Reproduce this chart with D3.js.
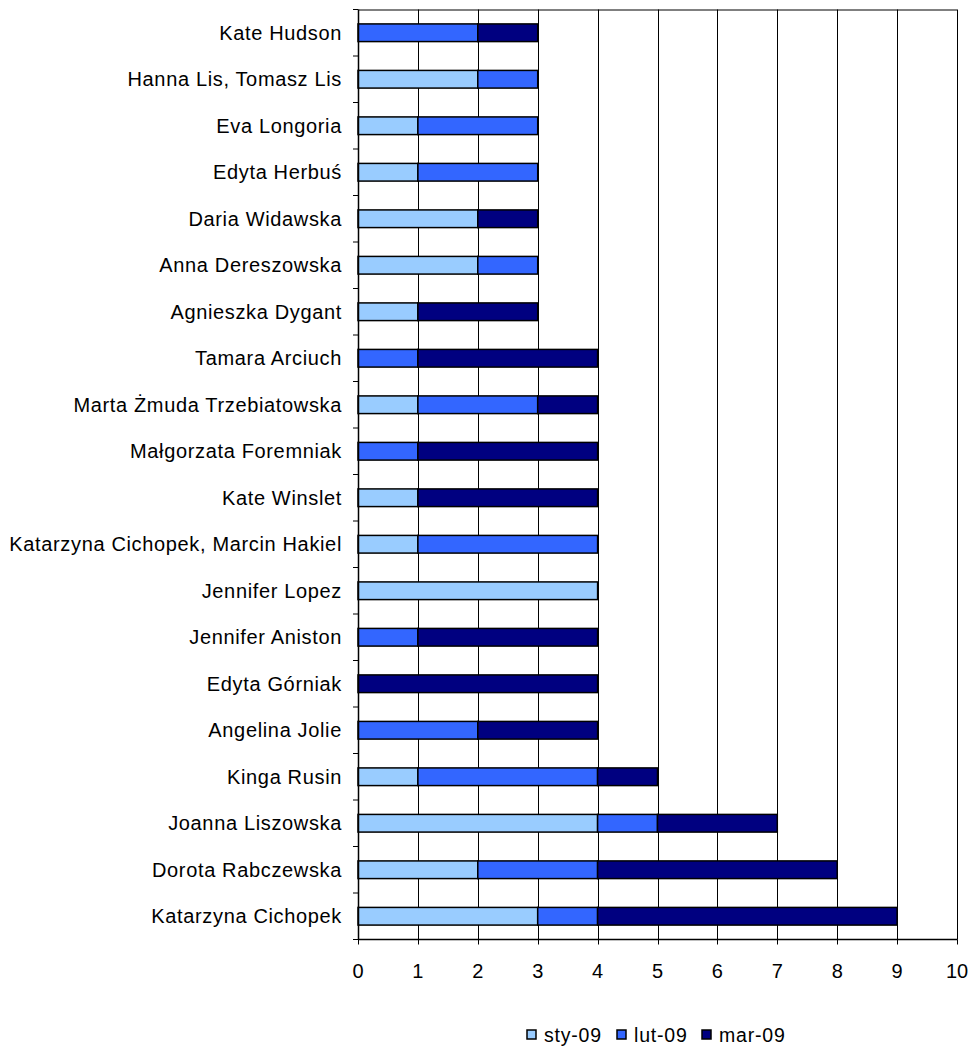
<!DOCTYPE html>
<html>
<head>
<meta charset="utf-8">
<script src="https://cdn.jsdelivr.net/npm/d3@7"></script>
<style>
  body { margin: 0; background: #fff; }
  text { font-family: "Liberation Sans", Arial, sans-serif; fill: #000; }
</style>
</head>
<body>
<div id="chart"></div>
<script>
// names, top to bottom
var names = ["Kate Hudson", "Hanna Lis, Tomasz Lis", "Eva Longoria", "Edyta Herbuś",
  "Daria Widawska", "Anna Dereszowska", "Agnieszka Dygant", "Tamara Arciuch",
  "Marta Żmuda Trzebiatowska", "Małgorzata Foremniak", "Kate Winslet",
  "Katarzyna Cichopek, Marcin Hakiel", "Jennifer Lopez", "Jennifer Aniston",
  "Edyta Górniak", "Angelina Jolie", "Kinga Rusin", "Joanna Liszowska",
  "Dorota Rabczewska", "Katarzyna Cichopek"];
var sty = [0, 2, 1, 1, 2, 2, 1, 0, 1, 0, 1, 1, 4, 0, 0, 0, 1, 4, 2, 3];
var lut = [2, 1, 2, 2, 0, 1, 0, 1, 2, 1, 0, 3, 0, 1, 0, 2, 3, 1, 2, 1];
var mar = [1, 0, 0, 0, 1, 0, 2, 3, 1, 3, 3, 0, 0, 3, 4, 2, 1, 2, 4, 5];
var seriesNames = ["sty-09", "lut-09", "mar-09"];
var colors = ["#99ccff", "#3366ff", "#000080"];
var xTicks = [0, 1, 2, 3, 4, 5, 6, 7, 8, 9, 10];

var W = 972, H = 1047;
var margin = {top: 9.5, right: 15, bottom: 107.5, left: 358};
var width = W - margin.left - margin.right,
    height = H - margin.top - margin.bottom;

var svg = d3.select("#chart").append("svg")
    .attr("width", W)
    .attr("height", H);
var g = svg.append("g")
    .attr("transform", "translate(" + margin.left + "," + margin.top + ")");

var x = d3.scaleLinear().domain([0, 10]).range([0, width]);
var y = d3.scaleBand().domain(names).range([0, height]).paddingInner(0.62).paddingOuter(0.31);
var band = height / names.length;

// vertical gridlines
g.selectAll(".grid")
  .data(xTicks.slice(1))
  .enter().append("line")
    .attr("x1", function(d) { return Math.round(x(d)) + 0.5; })
    .attr("x2", function(d) { return Math.round(x(d)) + 0.5; })
    .attr("y1", 0)
    .attr("y2", height)
    .attr("stroke", "#000")
    .attr("stroke-width", 1);

// top border
g.append("line")
  .attr("x1", 0).attr("x2", width)
  .attr("y1", 0.5).attr("y2", 0.5)
  .attr("stroke", "#000");

// stacked bars
var rows = names.map(function(n, i) {
  return {name: n, sty: sty[i], lut: lut[i], mar: mar[i]};
});
var stack = d3.stack().keys(["sty", "lut", "mar"])(rows);

g.selectAll(".layer")
  .data(stack)
  .enter().append("g")
    .attr("fill", function(d, i) { return colors[i]; })
  .selectAll("rect")
  .data(function(d) { return d.filter(function(p) { return p[1] > p[0]; }); })
  .enter().append("rect")
    .attr("x", function(d) { return x(d[0]); })
    .attr("width", function(d) { return x(d[1]) - x(d[0]); })
    .attr("y", function(d) { return y(d.data.name); })
    .attr("height", y.bandwidth())
    .attr("stroke", "#000")
    .attr("stroke-width", 1.5);

// left axis: ticks at category boundaries
var yEdges = d3.range(names.length + 1).map(function(i) { return i * band; });
g.selectAll(".ytick")
  .data(yEdges)
  .enter().append("line")
    .attr("x1", -5).attr("x2", 0)
    .attr("y1", function(d) { return d; })
    .attr("y2", function(d) { return d; })
    .attr("stroke", "#000");
g.append("line")
  .attr("x1", 0.5).attr("x2", 0.5)
  .attr("y1", 0).attr("y2", height + 0.5)
  .attr("stroke", "#000").attr("stroke-width", 1.5);

g.selectAll(".ylabel")
  .data(names)
  .enter().append("text")
    .attr("x", -16)
    .attr("y", function(d) { return y(d) + y.bandwidth() / 2; })
    .attr("dy", "0.35em")
    .attr("text-anchor", "end")
    .style("font-size", "20px")
    .style("letter-spacing", "0.65px")
    .text(function(d) { return d; });

// bottom axis
g.append("line")
  .attr("x1", 0).attr("x2", width + 0.5)
  .attr("y1", height).attr("y2", height)
  .attr("stroke", "#000").attr("stroke-width", 1.5);
g.selectAll(".xtick")
  .data(xTicks)
  .enter().append("line")
    .attr("x1", function(d) { return Math.round(x(d)) + 0.5; })
    .attr("x2", function(d) { return Math.round(x(d)) + 0.5; })
    .attr("y1", height).attr("y2", height + 5)
    .attr("stroke", "#000");
g.selectAll(".xlabel")
  .data(xTicks)
  .enter().append("text")
    .attr("x", function(d) { return x(d); })
    .attr("y", height + 38.5)
    .attr("text-anchor", "middle")
    .style("font-size", "20px")
    .text(function(d) { return d; });

// legend
var legendX = [527, 617, 702];
var legend = svg.selectAll(".legend")
  .data(seriesNames)
  .enter().append("g")
    .attr("transform", function(d, i) { return "translate(" + legendX[i] + ",1030)"; });
legend.append("rect")
  .attr("width", 9).attr("height", 9)
  .attr("fill", function(d, i) { return colors[i]; })
  .attr("stroke", "#000").attr("stroke-width", 1.5);
legend.append("text")
  .attr("x", 17)
  .attr("y", 11.5)
  .style("font-size", "19.5px")
  .style("letter-spacing", "0.8px")
  .text(function(d) { return d; });
</script>
</body>
</html>
